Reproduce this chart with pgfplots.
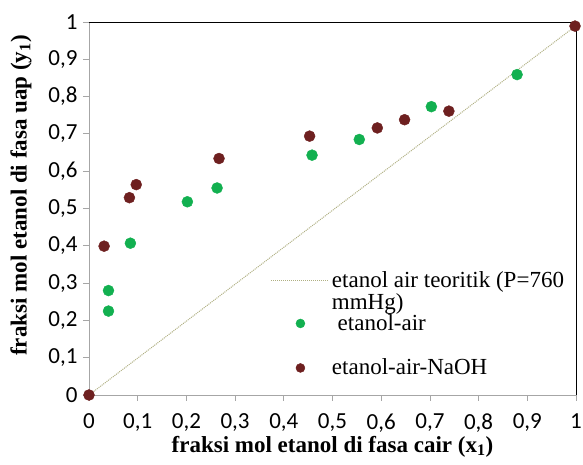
\documentclass[border=0pt]{standalone}
\usepackage{fontspec}
\setmainfont{Liberation Serif}
\newfontfamily\tickfont{Carlito}
\usepackage{pgfplots}
\pgfplotsset{compat=1.18}
\definecolor{hijau}{RGB}{18,176,80}
\definecolor{coklat}{RGB}{110,32,32}
\definecolor{garis}{RGB}{175,175,130}
\begin{document}
\begin{tikzpicture}
\begin{axis}[
    scale only axis,
    width=487pt, height=373pt,
    xmin=0, xmax=1, ymin=0, ymax=1,
    xtick={0,0.1,...,1.01}, ytick={0,0.1,...,1.01},
    axis x line*=bottom, axis y line*=left,
    axis line style={gray!70, line width=0.8pt},
    tick style={gray!70, line width=0.8pt},
    tick align=outside, major tick length=6pt,
    /pgf/number format/use comma,
    /pgf/number format/assume math mode=true,
    ticklabel style={font=\tickfont\fontsize{23}{26}\selectfont, black},
    xticklabel style={yshift=-9pt},
    yticklabel style={xshift=-2pt},
    xlabel={\textbf{fraksi mol etanol di fasa cair (x\textsubscript{1})}},
    ylabel={\textbf{fraksi mol etanol di fasa uap (y\textsubscript{1})}},
    label style={font=\fontsize{23}{26}\selectfont},
    xlabel style={yshift=3pt},
    ylabel style={yshift=10pt, xshift=13pt},
    legend style={draw=none, fill=none, at={(0.367,0.341)}, anchor=north west,
        font=\fontsize{23}{20}\selectfont, row sep=0pt,
        cells={anchor=base west}},
    clip=false,
]
\addplot[garis, densely dotted, line width=1pt,
    legend image code/.code={\draw[garis, densely dotted, line width=1pt] (0pt,7pt) -- (58pt,7pt);}]
    coordinates {(0,0) (1,0.99)};
\addlegendentry{\parbox[t]{250pt}{etanol air teoritik (P=760\\mmHg)}}
\addplot[only marks, mark=*, mark size=5.5pt, hijau, mark options={draw=hijau, fill=hijau},
    legend image code/.code={\fill[hijau] (29pt,7pt) circle (4.5pt);}] coordinates {
    (0.040,0.280) (0.040,0.225) (0.085,0.407) (0.202,0.518) (0.263,0.555)
    (0.458,0.643) (0.555,0.685) (0.703,0.773) (0.879,0.859)
};
\addlegendentry{\rule{0pt}{37pt}\ etanol-air}
\addplot[only marks, mark=*, mark size=5.5pt, coklat, mark options={draw=coklat, fill=coklat},
    legend image code/.code={\fill[coklat] (29pt,7pt) circle (4.5pt);}] coordinates {
    (0,0) (0.031,0.399) (0.083,0.529) (0.097,0.564) (0.267,0.634)
    (0.453,0.694) (0.592,0.716) (0.648,0.738) (0.739,0.761) (0.998,0.989)
};
\addlegendentry{\rule{0pt}{39pt}etanol-air-NaOH}
\draw[black, line width=0.8pt] (rel axis cs:0,1) -- (rel axis cs:1,1) -- (rel axis cs:1,0);
\end{axis}
\pgfresetboundingbox
\path (current axis.south west) ++(-89pt,-70pt) rectangle ++(583pt,465pt);
\end{tikzpicture}
\end{document}
